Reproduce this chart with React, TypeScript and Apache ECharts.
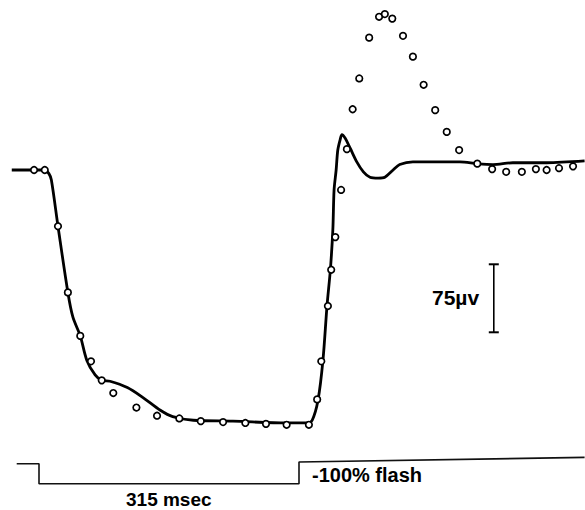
import React, { useEffect, useRef } from "react";
import * as echarts from "echarts";

// time in msec (0 = start of the 315 msec pulse), potential in microvolts (0 = pre-stimulus level)
const fitTimes = [-33, 7, 12, 15, 23, 35, 41, 50, 58, 68, 76, 86, 107, 126, 147, 162, 187, 235, 300, 325, 331, 338, 344, 349, 353, 356, 357.5, 360, 362, 365, 367, 371, 377, 385, 393, 401, 411, 419, 429, 437, 453, 474, 510, 531, 550, 574, 615, 661];
const fitValues = [0, 0, -4, -11, -62, -135, -162, -183, -210, -226, -232, -233, -240, -251, -265, -272, -276, -277, -279, -279, -276, -254, -210, -149, -110, -66, -22, 0, 22, 34, 39, 35, 24, 9, -2, -8, -9, -8, 0, 6, 9, 9, 9, 7, 6, 8, 8, 10];

const obsTimes = [-6, 7, 23, 35, 50, 63, 76, 90, 118, 143, 170, 196, 223, 250, 275, 300, 327, 337, 342, 350, 354, 359, 366, 373, 380, 388, 400, 412, 419, 428, 441, 453, 466, 480, 494, 509, 531, 549, 566, 585, 602, 615, 630, 647];
const obsValues = [0, 0, -62, -135, -183, -211, -232, -246, -262, -271, -274, -277, -278, -279, -280, -281, -281, -253, -211, -150, -110, -74, -22, 23, 67, 101, 146, 169, 172, 167, 148, 125, 94, 66, 42, 22, 7, 1, -2, -2, 1, 0, 2, 4];

const stimTimes = [-27, 0, 0, 315, 315, 661];
const stimValues = [-324, -324, -346, -346, -322, -317];

const scaleBarTimes = [551, 551];
const scaleBarValues = [-104, -179]; // 75 microvolts

const xRange = [-47.25, 661.5];
const yRange = [-375, 187.5];

const zip = (a: number[], b: number[]) => a.map((v, i) => [v, b[i]]);

export default function App() {
  const ref = useRef<HTMLDivElement>(null);
  useEffect(() => {
    if (!ref.current) return;
    const chart = echarts.init(ref.current, undefined, { renderer: "svg" });
    const font = "Liberation Sans";
    chart.setOption({
      animation: false,
      backgroundColor: "#ffffff",
      grid: { left: 0, right: 0, top: 0, bottom: 0, containLabel: false },
      xAxis: { type: "value", min: xRange[0], max: xRange[1], show: false },
      yAxis: { type: "value", min: yRange[0], max: yRange[1], show: false },
      series: [
        {
          type: "line",
          data: zip(stimTimes, stimValues),
          showSymbol: false,
          lineStyle: { color: "#111", width: 1.6 },
          z: 2,
        },
        {
          type: "line",
          data: zip(fitTimes, fitValues),
          showSymbol: false,
          smooth: 0.3,
          lineStyle: { color: "#000", width: 2.8 },
          z: 3,
        },
        {
          type: "scatter",
          data: zip(obsTimes, obsValues),
          symbol: "circle",
          symbolSize: 6.5,
          itemStyle: { color: "#fff", borderColor: "#000", borderWidth: 1.7, opacity: 1 },
          z: 5,
        },
        {
          type: "line",
          data: zip(scaleBarTimes, scaleBarValues),
          symbol: "rect",
          symbolSize: [10, 2],
          showSymbol: true,
          itemStyle: { color: "#000" },
          lineStyle: { color: "#000", width: 1.6 },
          z: 4,
        },
      ],
      graphic: [
        {
          type: "text",
          left: 126,
          top: 490,
          style: { text: "315 msec", font: `bold 19px "${font}"`, fill: "#000" },
        },
        {
          type: "text",
          left: 312,
          top: 464.5,
          style: { text: "-100% flash", font: `bold 20px "${font}"`, fill: "#000" },
        },
        {
          type: "text",
          left: 432,
          top: 286.5,
          style: { text: "75µv", font: `bold 21px "${font}"`, fill: "#000" },
        },
      ],
    });
    return () => chart.dispose();
  }, []);
  return (
    <div
      ref={ref}
      style={{ position: "absolute", left: 0, top: 0, width: 585, height: 510 }}
    />
  );
}
